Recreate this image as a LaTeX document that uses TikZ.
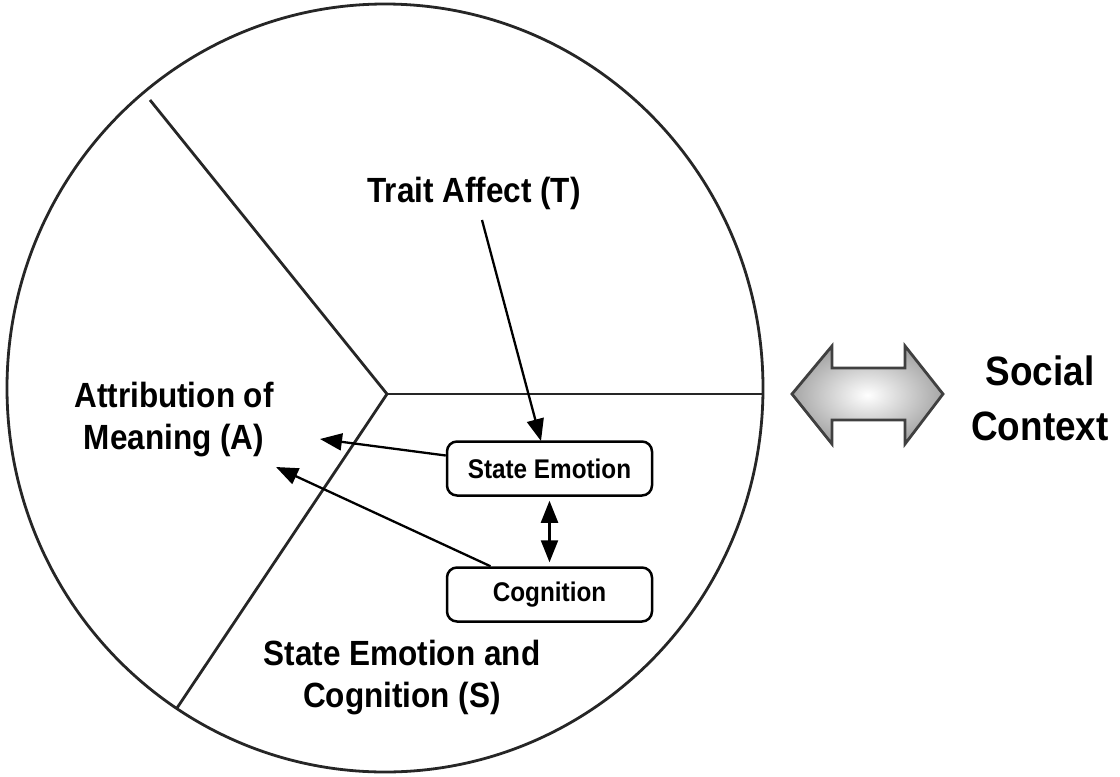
\documentclass[tikz,border=0pt]{standalone}
\usepackage{fontspec}
\setmainfont{Liberation Sans}[FakeStretch=0.9]
\usetikzlibrary{arrows.meta}
\begin{document}
\begin{tikzpicture}[x=1pt,y=-1pt,
  lbl/.style={font=\fontsize{35}{42}\selectfont\bfseries, align=center, inner sep=0pt},
  biglbl/.style={font=\fontsize{41}{55}\selectfont\bfseries, align=center, inner sep=0pt},
  stbox/.style={draw, line width=2.5pt, rounded corners=10pt, minimum width=205pt, minimum height=54pt, inner sep=0pt, font=\fontsize{27}{30}\selectfont\bfseries},
  arr/.style={line width=2.3pt, -{Triangle[length=22pt,width=17pt]}},
  dblarr/.style={line width=2.3pt, {Triangle[length=22pt,width=17pt]}-{Triangle[length=22pt,width=17pt]}},
  sector/.style={line width=2.8pt, draw=black!85}
]
\useasboundingbox (0,0) rectangle (1120,777);
% circle and sector lines
\draw[sector] (385,388) ellipse [x radius=378, y radius=384];
\coordinate (ctr) at (387,394);
\coordinate (pTL) at (150,100);
\coordinate (pR) at (763,394);
\coordinate (pBL) at (177,708);
\draw[sector] (ctr) -- (pTL);
\draw[sector] (ctr) -- (pR);
\draw[sector] (ctr) -- (pBL);
% labels
\node[lbl] (T) at (474,193) {Trait Affect (T)};
\node[lbl] (A) at (174,420) {Attribution of\\Meaning (A)};
\node[lbl] (S) at (402,678) {State Emotion and\\Cognition (S)};
\node[biglbl] (SC) at (1040,398) {Social\\Context};
% boxes
\node[stbox] (SE) at (549.5,468.5) {State Emotion};
\node[stbox] (C) at (549.5,594.5) {Cognition};
% arrows
\coordinate (tStart) at (482,220);
\coordinate (tEnd) at (541,441);
\draw[arr] (tStart) -- (tEnd);
\coordinate (aTip1) at (320,439);
\coordinate (aTip2) at (276,467);
\draw[arr] ([yshift=13pt]SE.west) -- (aTip1);
\draw[arr] ([xshift=-59pt]C.north) -- (aTip2);
\draw[dblarr] ([yshift=-4pt]SE.south) -- ([yshift=4pt]C.north);
% social context double arrow
\draw[line width=2.8pt, draw=black!75, inner color=white, outer color=gray!70, line join=miter]
  (792,394) -- (832,346) -- (832,368) -- (905,368) -- (905,346) -- (943,394)
  -- (905,444) -- (905,420) -- (832,420) -- (832,444) -- cycle;
\end{tikzpicture}
\end{document}
